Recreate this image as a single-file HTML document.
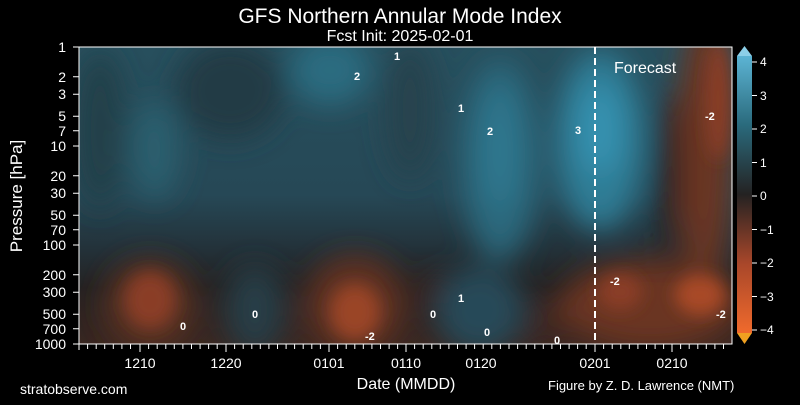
<!DOCTYPE html>
<html><head><style>
body{margin:0;background:#000;}
svg text{font-family:"Liberation Sans",sans-serif;fill:#fff;}
</style></head><body>
<svg width="800" height="400" viewBox="0 0 800 400" xmlns="http://www.w3.org/2000/svg">
<defs>
<clipPath id="c"><rect x="79" y="47" width="653" height="297"/></clipPath>
<filter id="b" x="-50%" y="-50%" width="200%" height="200%"><feGaussianBlur stdDeviation="14"/></filter>
<filter id="b2" x="-50%" y="-50%" width="200%" height="200%"><feGaussianBlur stdDeviation="8"/></filter>
<linearGradient id="cb" x1="0" y1="1" x2="0" y2="0">
<stop offset="0" stop-color="#f06a2c"/>
<stop offset="0.25" stop-color="#a9472a"/>
<stop offset="0.5" stop-color="#242222"/>
<stop offset="0.75" stop-color="#2a6a7c"/>
<stop offset="1" stop-color="#5cb4d4"/>
</linearGradient>
<linearGradient id="bg" x1="0" y1="0" x2="0" y2="1">
<stop offset="0" stop-color="#27505e"/>
<stop offset="0.5" stop-color="#264856"/>
<stop offset="0.66" stop-color="#23323a"/>
<stop offset="0.78" stop-color="#242222"/>
<stop offset="1" stop-color="#3e2720"/>
</linearGradient>
</defs>
<g clip-path="url(#c)">
<rect x="60" y="30" width="700" height="330" fill="url(#bg)"/>
<g filter="url(#b)">
<ellipse cx="100" cy="130" rx="25" ry="80" fill="#24404a"/>
<ellipse cx="230" cy="90" rx="55" ry="50" fill="#243a44"/>
<ellipse cx="410" cy="110" rx="25" ry="70" fill="#25424e"/>
<ellipse cx="155" cy="150" rx="25" ry="50" fill="#2a5e6e"/>
<ellipse cx="330" cy="70" rx="40" ry="35" fill="#2c6c80"/>
<ellipse cx="500" cy="160" rx="40" ry="100" fill="#2b687c"/>
<ellipse cx="500" cy="150" rx="18" ry="60" fill="#2e7890"/>
<ellipse cx="600" cy="140" rx="45" ry="90" fill="#2e7c94"/>
<ellipse cx="600" cy="130" rx="22" ry="45" fill="#3592b0"/>
<ellipse cx="255" cy="310" rx="30" ry="45" fill="#253c46"/>
<ellipse cx="480" cy="310" rx="45" ry="45" fill="#274a58"/>
<ellipse cx="150" cy="305" rx="45" ry="45" fill="#5a3022"/>
<ellipse cx="355" cy="305" rx="50" ry="50" fill="#603224"/>
<ellipse cx="430" cy="290" rx="12" ry="18" fill="#3a2620"/>
<ellipse cx="550" cy="325" rx="18" ry="25" fill="#3e2820"/>
<ellipse cx="705" cy="150" rx="28" ry="140" fill="#6a3424"/>
<ellipse cx="650" cy="305" rx="90" ry="45" fill="#6a3424"/>
<ellipse cx="668" cy="180" rx="12" ry="90" fill="#232222"/>
</g>
<g filter="url(#b2)">
<ellipse cx="150" cy="300" rx="25" ry="28" fill="#8a3e25"/>
<ellipse cx="355" cy="312" rx="25" ry="28" fill="#9a4426"/>
<ellipse cx="700" cy="295" rx="25" ry="20" fill="#a84a28"/>
<ellipse cx="620" cy="292" rx="22" ry="18" fill="#8a3e25"/>
<ellipse cx="718" cy="100" rx="12" ry="60" fill="#8a3e25"/>
</g>
<line x1="595" y1="47" x2="595" y2="344" stroke="#fff" stroke-width="2" stroke-dasharray="7,4"/>
<g font-size="11" font-weight="bold">
<text x="180" y="330">0</text><text x="252" y="318">0</text><text x="430" y="318">0</text><text x="484" y="336">0</text><text x="554" y="344">0</text>
<text x="458" y="112">1</text><text x="458" y="302">1</text><text x="394" y="60">1</text>
<text x="487" y="135">2</text><text x="354" y="80">2</text><text x="575" y="134">3</text>
<text x="610" y="285">-2</text><text x="705" y="120">-2</text><text x="716" y="318">-2</text><text x="365" y="340">-2</text>
</g>
<text x="614" y="73" font-size="16">Forecast</text>
</g>
<rect x="79" y="47" width="653" height="297" fill="none" stroke="#fff" stroke-width="1"/>
<g stroke="#fff" stroke-width="1">
<path d="M79 344v6M87.6 344v5M96.2 344v5M104.7 344v5M113.3 344v5M121.9 344v5M130.5 344v5M140 344v8M148.6 344v5M157.2 344v5M165.8 344v5M174.3 344v5M182.9 344v5M191.5 344v5M200.1 344v5M208.6 344v5M217.2 344v5M226 344v8M234.6 344v5M243.2 344v5M251.8 344v5M260.3 344v5M268.9 344v5M277.5 344v5M286.1 344v5M294.6 344v5M303.2 344v5M311.8 344v5M320.4 344v5M329 344v8M337.6 344v5M346.2 344v5M354.8 344v5M363.3 344v5M371.9 344v5M380.5 344v5M389.1 344v5M397.6 344v5M406 344v8M414.6 344v5M423.2 344v5M431.8 344v5M440.3 344v5M448.9 344v5M457.5 344v5M466.1 344v5M474.6 344v5M483.2 344v5M491.8 344v5M500.4 344v5M509 344v5M517.6 344v5M526.2 344v5M534.8 344v5M543.3 344v5M551.9 344v5M560.5 344v5M569.1 344v5M577.6 344v5M586.2 344v5M595 344v8M603.6 344v5M612.2 344v5M620.8 344v5M629.3 344v5M637.9 344v5M646.5 344v5M655.1 344v5M663.6 344v5M672 344v8M680.6 344v5M689.2 344v5M697.8 344v5M706.3 344v5M714.9 344v5M723.5 344v5"/>
<path d="M73 47h6M73 76.8h6M73 94.2h6M73 116.2h6M73 130.7h6M73 146h6M73 175.8h6M73 193.2h6M73 215.2h6M73 229.7h6M73 245h6M73 274.8h6M73 292.2h6M73 314.2h6M73 328.7h6M73 344h6"/>
</g>
<g font-size="14" text-anchor="end">
<text x="66" y="52">1</text><text x="66" y="82">2</text><text x="66" y="99">3</text><text x="66" y="121">5</text><text x="66" y="136">7</text><text x="66" y="151">10</text><text x="66" y="181">20</text><text x="66" y="198">30</text><text x="66" y="220">50</text><text x="66" y="235">70</text><text x="66" y="250">100</text><text x="66" y="280">200</text><text x="66" y="297">300</text><text x="66" y="319">500</text><text x="66" y="334">700</text><text x="66" y="349">1000</text>
</g>
<g font-size="14" text-anchor="middle">
<text x="140" y="368">1210</text><text x="226" y="368">1220</text><text x="329" y="368">0101</text><text x="406" y="368">0110</text><text x="481" y="368">0120</text><text x="595" y="368">0201</text><text x="672" y="368">0210</text>
</g>
<text x="400" y="23" font-size="21" text-anchor="middle">GFS Northern Annular Mode Index</text>
<text x="400" y="41" font-size="16" text-anchor="middle">Fcst Init: 2025-02-01</text>
<text x="406" y="389" font-size="16" text-anchor="middle">Date (MMDD)</text>
<text x="22" y="196" font-size="17" text-anchor="middle" transform="rotate(-90 22 196)">Pressure [hPa]</text>
<text x="20" y="394" font-size="14">stratobserve.com</text>
<text x="548" y="390" font-size="13">Figure by Z. D. Lawrence (NMT)</text>
<rect x="737" y="56" width="15" height="277" fill="url(#cb)"/>
<polygon points="737,56 752,56 744.5,46" fill="#8ccfe8"/>
<polygon points="737,333 752,333 744.5,344" fill="#f0a020"/>
<g stroke="#fff"><path d="M752 62h5M752 95.5h5M752 129h5M752 162.5h5M752 196h5M752 229.5h5M752 263h5M752 296.5h5M752 330h5"/></g>
<g font-size="12">
<text x="760" y="66">4</text><text x="760" y="100">3</text><text x="760" y="133">2</text><text x="760" y="167">1</text><text x="760" y="200">0</text><text x="760" y="234">−1</text><text x="760" y="267">−2</text><text x="760" y="301">−3</text><text x="760" y="334">−4</text>
</g>
</svg>
</body></html>
